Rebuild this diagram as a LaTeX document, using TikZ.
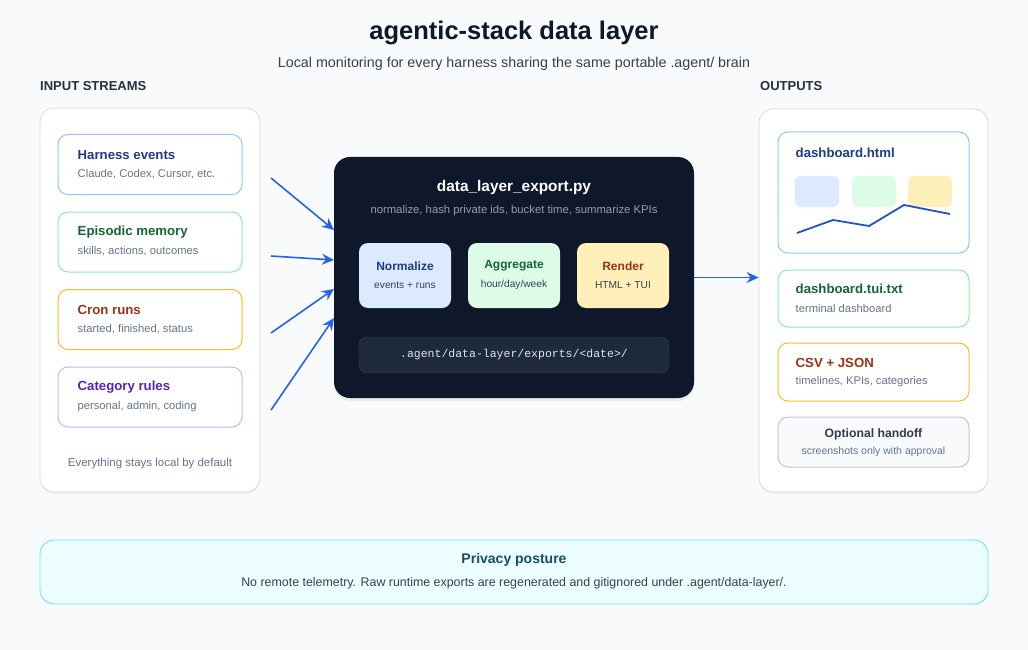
\documentclass[tikz,border=0pt]{standalone}
\usepackage{fontspec}
\setmainfont{Liberation Sans}
\setmonofont{Liberation Mono}
\usetikzlibrary{
  calc, % offsets inside the cards
  positioning,
  arrows.meta, % arrow tips
  shadows % soft panel shadows
}

\definecolor{page}{HTML}{F8FAFC}
\definecolor{ink}{HTML}{0F172A}
\definecolor{slate}{HTML}{334155}
\definecolor{muted}{HTML}{64748B}
\definecolor{edge}{HTML}{D5DCE6}
\definecolor{flow}{HTML}{2563EB}
\definecolor{blueedge}{HTML}{93C5FD}
\definecolor{bluetext}{HTML}{1E3A8A}
\definecolor{bluefill}{HTML}{DBEAFE}
\definecolor{greenedge}{HTML}{86EFAC}
\definecolor{greentext}{HTML}{166534}
\definecolor{greenfill}{HTML}{DCFCE7}
\definecolor{amberedge}{HTML}{FBBF24}
\definecolor{ambertext}{HTML}{9A3412}
\definecolor{amberfill}{HTML}{FEF0B8}
\definecolor{violetedge}{HTML}{C4B5FD}
\definecolor{violettext}{HTML}{5B21B6}
\definecolor{pathfill}{HTML}{1E293B}
\definecolor{pathedge}{HTML}{334155}
\definecolor{cyanfill}{HTML}{ECFEFF}
\definecolor{cyanedge}{HTML}{67E8F9}
\definecolor{cyantext}{HTML}{164E63}

\begin{document}
\begin{tikzpicture}[
      x=1pt, y=-1pt, % pixel grid, y downwards
      >=Stealth, % Default arrow tip
      panel/.style={draw=edge, fill=white, rounded corners=14pt, line width=0.8pt,
        drop shadow={shadow xshift=0pt, shadow yshift=-2pt, opacity=0.035, fill=black}},
      card/.style={fill=white, rounded corners=10pt, line width=1pt},
      cardtitle/.style={anchor=west, inner sep=0pt, font=\bfseries\fontsize{13.2}{16}\selectfont},
      cardsub/.style={anchor=west, inner sep=0pt, text=muted, font=\fontsize{11.2}{13}\selectfont},
      stage/.style={rounded corners=9pt, minimum width=92pt, minimum height=65pt},
      head/.style={anchor=west, inner sep=0pt, text=ink!90!white, font=\bfseries\fontsize{13}{15}\selectfont},
      feed/.style={->, draw=flow, line width=1.6pt, >={Stealth[length=12pt, width=11pt]}},
    ]

    % Seite
    \useasboundingbox[fill=page] (0,0) rectangle (1028,650);

    % Titel
    \node[text=ink, font=\bfseries\fontsize{25.5}{30}\selectfont] (title) at (514,33) {agentic-stack data layer};
    \node[text=slate, font=\fontsize{14.3}{17}\selectfont] (subtitle) at (514,64)
      {Local monitoring for every harness sharing the same portable .agent/ brain};

    \node[head] (inhead) at (40,86) {INPUT STREAMS};
    \node[head] (outhead) at (760,86) {OUTPUTS};

    % Eingänge
    \node[panel, minimum width=220pt, minimum height=384pt] (inputs) at (150,300) {};
    \foreach \n/\y/\e/\k/\t/\s in {
        harness/164.5/blueedge/bluetext/Harness events/{Claude, Codex, Cursor, etc.},
        memory/242/greenedge/greentext/Episodic memory/{skills, actions, outcomes},
        cron/319.5/amberedge/ambertext/Cron runs/{started, finished, status},
        rules/397/violetedge/violettext/Category rules/{personal, admin, coding}}
    {
      \node[card, draw=\e, minimum width=184pt, minimum height=60pt] (\n) at (150,\y) {};
      \node[cardtitle, text=\k] (\n-title) at ($(\n.west)+(20,-9.5)$) {\t};
      \node[cardsub] (\n-sub) at ($(\n.west)+(20,9.5)$) {\s};
    }
    \node[text=muted, font=\fontsize{11.5}{14}\selectfont] (localnote) at (150,464) {Everything stays local by default};

    % Exporter
    \node[fill=ink, rounded corners=16pt, minimum width=360pt, minimum height=241pt,
      drop shadow={shadow xshift=0pt, shadow yshift=-3pt, opacity=0.06, fill=black}] (core) at (514,277.5) {};
    \node[text=white, font=\bfseries\fontsize{15.4}{18}\selectfont] (core-title) at (514,188) {data\_layer\_export.py};
    \node[text=muted!70!white, font=\fontsize{11.3}{13}\selectfont] (core-sub) at (514,211)
      {normalize, hash private ids, bucket time, summarize KPIs};

    \foreach \n/\x/\f/\k/\t/\s in {
        normalize/405/bluefill/bluetext/Normalize/events + runs,
        aggregate/514/greenfill/greentext/Aggregate/hour\slash day\slash week,
        render/623/amberfill/ambertext/Render/HTML + TUI}
    {
      \node[stage, fill=\f] (\n) at (\x,275.5) {};
      \node[text=\k, font=\bfseries\fontsize{12}{14}\selectfont] (\n-title) at ($(\n.center)+(0,-9.5)$) {\t};
      \node[text=slate, font=\fontsize{10.2}{12}\selectfont] (\n-sub) at ($(\n.center)+(0,9.5)$) {\s};
    }

    \node[fill=pathfill, draw=pathedge, rounded corners=8pt, minimum width=310pt, minimum height=36pt,
      text=white!88!blue, font=\ttfamily\fontsize{11.5}{13}\selectfont] (exportpath) at (514,355)
      {.agent/data-layer/exports/<date>/};

    % Pfeile in den Exporter
    \coordinate (feed1) at (271,178);
    \coordinate (feed2) at (271,256);
    \coordinate (feed3) at (271,333);
    \coordinate (feed4) at (271,410);
    \coordinate (hit1) at (334,230);
    \coordinate (hit2) at (334,260);
    \coordinate (hit3) at (334,289);
    \coordinate (hit4) at (334,318);
    \foreach \i in {1,...,4}
    \draw[feed] (feed\i) -- (hit\i);

    % Ausgaben
    \node[panel, minimum width=229pt, minimum height=383pt] (outputs) at (873.5,300.5) {};
    \draw[feed] (core.east) -- (core.east -| outputs.west);

    \node[card, draw=blueedge, minimum width=191pt, minimum height=121pt] (html) at (873.5,192.5) {};
    \node[cardtitle, text=bluetext] (html-title) at ($(html.west)+(18,-39.5)$) {dashboard.html};
    \fill[bluefill, rounded corners=6pt] (795,176) rectangle (839,207);
    \fill[greenfill, rounded corners=6pt] (852,176) rectangle (896,207);
    \fill[amberfill, rounded corners=6pt] (908,176) rectangle (952,207);
    \draw[flow!85!black, line width=1.8pt] (797,233) -- (833,220) -- (869,226) -- (904,205) -- (950,214);

    \foreach \n/\y/\h/\e/\k/\t/\s in {
        tui/298.5/57/greenedge/greentext/dashboard.tui.txt/terminal dashboard,
        tables/372/58/amberedge/ambertext/CSV + JSON/{timelines, KPIs, categories}}
    {
      \node[card, draw=\e, minimum width=191pt, minimum height=\h pt] (\n) at (873.5,\y) {};
      \node[cardtitle, text=\k] (\n-title) at ($(\n.west)+(18,-9.5)$) {\t};
      \node[cardsub] (\n-sub) at ($(\n.west)+(18,9.5)$) {\s};
    }

    \node[card, draw=edge!90!black, fill=page, minimum width=191pt, minimum height=50pt] (handoff) at (873.5,442) {};
    \node[text=ink!85!white, font=\bfseries\fontsize{12.2}{14}\selectfont] (handoff-title) at ($(handoff.center)+(0,-8)$) {Optional handoff};
    \node[text=muted, font=\fontsize{10.5}{12}\selectfont] (handoff-sub) at ($(handoff.center)+(0,10)$) {screenshots only with approval};

    % Datenschutz
    \node[fill=cyanfill, draw=cyanedge, rounded corners=14pt, line width=0.9pt,
      minimum width=948pt, minimum height=64pt] (privacy) at (514,572) {};
    \node[text=cyantext, font=\bfseries\fontsize{14}{17}\selectfont] (privacy-title) at (514,560) {Privacy posture};
    \node[text=slate, font=\fontsize{12.4}{15}\selectfont] (privacy-sub) at (514,583)
      {No remote telemetry. Raw runtime exports are regenerated and gitignored under .agent/data-layer/.};
  \end{tikzpicture}
\end{document}
